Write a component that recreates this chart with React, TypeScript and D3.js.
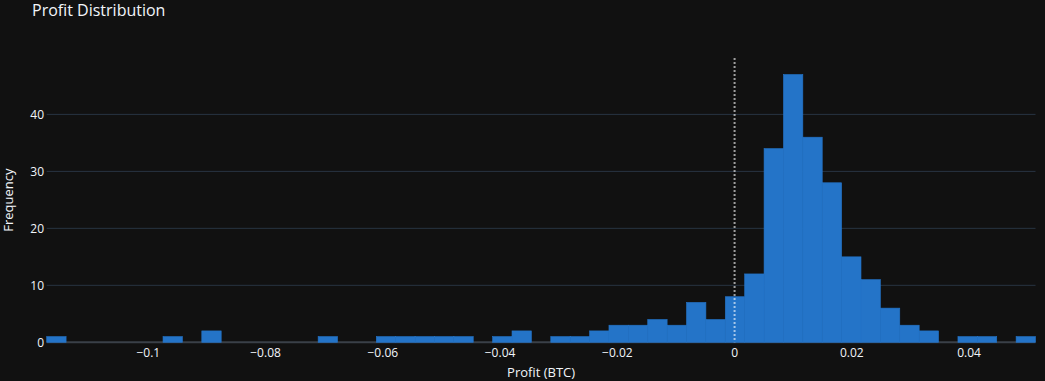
import React from "react";
import * as d3 from "d3";

const binStart = -0.11733;
const binSize = 0.003307;
const counts = [
  1, 0, 0, 0, 0, 0, 1, 0, 2, 0, 0, 0, 0, 0, 1, 0, 0, 1, 1, 1, 1, 1, 0, 1, 2, 0,
  1, 1, 2, 3, 3, 4, 3, 7, 4, 8, 12, 34, 47, 36, 28, 15, 11, 6, 3, 2, 0, 1, 1, 0, 1,
];
const xTicks = [-0.1, -0.08, -0.06, -0.04, -0.02, 0, 0.02, 0.04];
const yTicks = [0, 10, 20, 30, 40];
const yMax = 49.9;

const W = 1045;
const H = 381;
const font = "'Open Sans', verdana, arial, sans-serif";

export default function App() {
  const x = d3
    .scaleLinear()
    .domain([binStart, binStart + counts.length * binSize])
    .range([46.7, 1035.5]);
  const y = d3.scaleLinear().domain([0, yMax]).range([342.3, 58]);
  const fmt = (v: number) => (v === 0 ? "0" : String(v).replace("-", "\u2212"));

  return (
    <svg
      width={W}
      height={H}
      style={{ position: "absolute", left: 0, top: 0, display: "block" }}
    >
      <rect x={0} y={0} width={W} height={H} fill="#111111" />
      {yTicks
        .filter((t) => t !== 0)
        .map((t) => (
          <line
            key={"g" + t}
            x1={x.range()[0]}
            x2={x.range()[1]}
            y1={y(t)}
            y2={y(t)}
            stroke="#283442"
            strokeWidth={1}
          />
        ))}
      <line
        x1={x.range()[0]}
        x2={x.range()[1]}
        y1={y(0)}
        y2={y(0)}
        stroke="#3a4048"
        strokeWidth={2}
      />
      {counts.map((c, i) =>
        c > 0 ? (
          <rect
            key={"b" + i}
            x={x(binStart + i * binSize)}
            width={x(binStart + (i + 1) * binSize) - x(binStart + i * binSize)}
            y={y(c)}
            height={y(0) - y(c)}
            fill="#2474c8"
            stroke="#2474c8"
            strokeWidth={0.6}
          />
        ) : null
      )}
      <line
        x1={x(0)}
        x2={x(0)}
        y1={y(yMax)}
        y2={y(0)}
        stroke="#ffffff"
        strokeOpacity={0.6}
        strokeWidth={2}
        strokeDasharray="2,2"
      />
      {yTicks.map((t) => (
        <text
          key={"yt" + t}
          x={44}
          y={y(t)}
          dy="0.35em"
          textAnchor="end"
          fill="#f2f5fa"
          fontSize={12}
          fontFamily={font}
        >
          {t}
        </text>
      ))}
      {xTicks.map((t) => (
        <text
          key={"xt" + t}
          x={x(t)}
          y={357}
          textAnchor="middle"
          fill="#f2f5fa"
          fontSize={12}
          fontFamily={font}
        >
          {fmt(t)}
        </text>
      ))}
      <text x={32} y={16} fill="#f2f5fa" fontSize={16} fontFamily={font}>
        Profit Distribution
      </text>
      <text
        x={(x.range()[0] + x.range()[1]) / 2}
        y={377}
        textAnchor="middle"
        fill="#f2f5fa"
        fontSize={13}
        fontFamily={font}
      >
        Profit (BTC)
      </text>
      <text
        transform={`translate(13, ${(y(0) + y(yMax)) / 2}) rotate(-90)`}
        textAnchor="middle"
        fill="#f2f5fa"
        fontSize={13}
        fontFamily={font}
      >
        Frequency
      </text>
    </svg>
  );
}
